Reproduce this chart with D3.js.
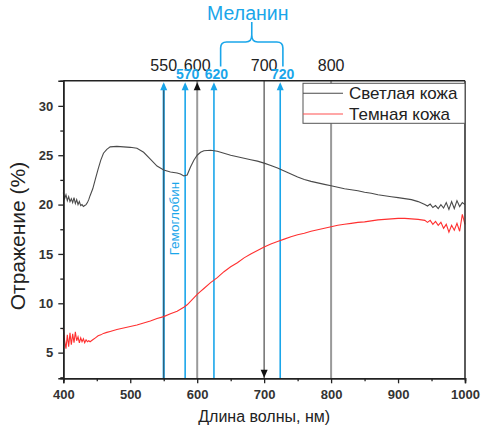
<!DOCTYPE html>
<html><head><meta charset="utf-8">
<script src="https://cdn.jsdelivr.net/npm/d3@7"></script>
<style>
html,body{margin:0;padding:0;background:#fff;}
svg{display:block;font-family:"Liberation Sans",Arial,sans-serif;}
</style></head>
<body><svg id="c" width="482" height="430"></svg>
<script>
// ---- data ----
const wavelengths = [400,402,404,406,408,410,412,414,416,418,420,422,424,426,428,430,432,434,436,438,440,444,448,452,456,460,465,470,480,490,500,510,520,530,540,550,560,570,575,580,585,590,595,600,605,610,620,630,640,650,660,670,680,690,700,710,720,730,740,750,760,770,780,790,800,810,820,830,840,850,860,870,880,890,900,910,920,930,940,944,948,952,956,960,964,968,972,976,980,984,988,992,996,1000];
const lightSkin = [21.2,20.6,21.0,20.4,20.8,20.3,20.6,20.2,20.7,20.1,20.5,20.0,20.3,19.9,20.0,19.8,19.9,20.0,20.2,20.5,20.9,21.6,22.6,23.6,24.5,25.2,25.6,25.85,25.9,25.85,25.8,25.7,25.3,24.6,23.9,23.5,23.3,23.2,23.1,22.9,23.0,23.8,24.5,25.0,25.3,25.45,25.5,25.4,25.2,25.0,24.85,24.7,24.55,24.4,24.2,23.95,23.7,23.4,23.1,22.8,22.55,22.35,22.2,22.05,21.9,21.75,21.6,21.5,21.4,21.25,21.15,21.0,20.9,20.8,20.7,20.6,20.5,20.3,20.0,19.85,20.05,19.7,19.9,19.6,20.0,19.65,20.2,19.5,20.3,19.6,20.4,19.8,20.2,20.0];
const darkSkin = [7.4,6.2,5.4,6.8,5.6,7.0,5.8,6.9,6.0,7.1,6.2,6.6,6.0,6.5,6.1,6.4,6.0,6.3,6.1,6.2,6.1,6.3,6.5,6.7,6.8,6.95,7.05,7.15,7.35,7.5,7.65,7.8,8.0,8.2,8.45,8.65,8.95,9.2,9.4,9.6,9.85,10.2,10.55,10.9,11.2,11.5,12.1,12.6,13.2,13.7,14.1,14.6,15.0,15.35,15.7,16.0,16.25,16.5,16.75,16.95,17.1,17.3,17.45,17.6,17.75,17.9,18.0,18.1,18.2,18.25,18.35,18.45,18.5,18.55,18.6,18.6,18.55,18.5,18.4,18.2,18.4,18.0,18.3,17.9,18.2,17.6,18.0,17.2,17.9,17.4,18.1,17.3,19.0,18.0];
const seriesNames = ["Светлая кожа","Темная кожа"];
const xTicks = [400,500,600,700,800,900,1000];
const yTicks = [5,10,15,20,25,30];
const topMarkWl = [550,600,700,800];
const topMarkLabels = ["550","600","700","800"];
const blueLineWl = [550,582,625,724];
const blueLabelWl = [582,625,724];
const blueLabels = ["570","620","720"];
const grayLineWl = [600,700,800];
const melaninRange = [635,728];
const hemoglobinWl = 565;

// ---- layout ----
const svg = d3.select("#c");
const L = 63.3, R = 465, T = 80.7, B = 378.3;
const x = d3.scaleLinear().domain([400,1000]).range([L,R]);
const y = d3.scaleLinear().domain([2.4,32.55]).range([B,T]);
const blue = "#1aa6ea";
const txt = "#222";

// vertical lines
svg.append("g").selectAll("line").data(grayLineWl).join("line")
  .attr("x1",d=>x(d)).attr("x2",d=>x(d)).attr("y1",T).attr("y2",B)
  .attr("stroke",(d,i)=>i===1?"#6f6f6f":"#9a9a9a").attr("stroke-width",(d,i)=>i===1?1.5:2);
svg.append("g").selectAll("line").data(blueLineWl).join("line")
  .attr("x1",d=>x(d)).attr("x2",d=>x(d)).attr("y1",T+4).attr("y2",B)
  .attr("stroke",blue).attr("stroke-width",(d,i)=>i===0?2.2:1.6);
svg.append("line").attr("x1",x(blueLineWl[0])).attr("x2",x(blueLineWl[0]))
  .attr("y1",T+9).attr("y2",B).attr("stroke","#3a4650").attr("stroke-width",0.9);

// arrowheads
function up(cx,tip,col){svg.append("path").attr("d",`M${cx},${tip}L${cx-3.5},${tip+8}L${cx+3.5},${tip+8}Z`).attr("fill",col);}
function down(cx,tip,col){svg.append("path").attr("d",`M${cx},${tip}L${cx-3.5},${tip-8}L${cx+3.5},${tip-8}Z`).attr("fill",col);}
blueLineWl.forEach(d=>up(x(d),T+1.5,blue));
up(x(600),T+1.5,"#111");
down(x(700),B-0.5,"#111");

// curves
const line = d3.line().x((d,i)=>x(wavelengths[i])).y(d=>y(d));
svg.append("path").datum(lightSkin).attr("d",line).attr("fill","none").attr("stroke","#4a4a4a").attr("stroke-width",1.1);
svg.append("path").datum(darkSkin).attr("d",line).attr("fill","none").attr("stroke","#ff3030").attr("stroke-width",1.1);

// axes
const xAxis = svg.append("g").attr("transform",`translate(0,${B})`)
  .call(d3.axisBottom(x).tickValues(xTicks).tickSize(5).tickPadding(6).tickFormat(d3.format("d")));
const xMinor = svg.append("g").attr("transform",`translate(0,${B})`)
  .call(d3.axisBottom(x).tickValues(d3.range(450,1000,100)).tickSize(3).tickFormat(""));
const yAxis = svg.append("g").attr("transform",`translate(${L},0)`)
  .call(d3.axisLeft(y).tickValues(yTicks).tickSize(5).tickPadding(5));
const yMinor = svg.append("g").attr("transform",`translate(${L},0)`)
  .call(d3.axisLeft(y).tickValues([2.5,7.5,12.5,17.5,22.5,27.5]).tickSize(3).tickFormat(""));
[xAxis,xMinor,yAxis,yMinor].forEach(g=>{
  g.select(".domain").attr("stroke","#222").attr("stroke-width",1.5);
  g.selectAll(".tick line").attr("stroke","#222").attr("stroke-width",1.3);
  g.selectAll("text").attr("font-size",13).attr("fill","#333").attr("font-weight",600)
    .attr("font-family","'Liberation Sans',Arial,sans-serif");
});
// top & right border
svg.append("line").attr("x1",L).attr("x2",R).attr("y1",T).attr("y2",T).attr("stroke","#222").attr("stroke-width",1.5);
svg.append("line").attr("x1",R).attr("x2",R).attr("y1",T).attr("y2",B).attr("stroke","#333").attr("stroke-width",1.6);

// top labels
svg.append("g").selectAll("text").data(topMarkWl).join("text")
  .attr("x",d=>x(d)).attr("y",70.5).attr("text-anchor","middle")
  .attr("font-size",16).attr("fill",txt).text((d,i)=>topMarkLabels[i]);
svg.append("g").selectAll("text").data(blueLabelWl).join("text")
  .attr("x",d=>x(d)+2.5).attr("y",78.5).attr("text-anchor","middle")
  .attr("font-size",14).attr("font-weight",700).attr("fill",blue).text((d,i)=>blueLabels[i]);

// melanin brace
const bx1 = x(melaninRange[0]), bx2 = x(melaninRange[1]), bm = (bx1+bx2)/2;
svg.append("path").attr("fill","none").attr("stroke",blue).attr("stroke-width",1.6)
  .attr("d",`M${bx1},66.5 L${bx1},48 Q${bx1},42 ${bx1+6},42 L${bm-6},42 Q${bm},42 ${bm},35 L${bm},22
             M${bm},35 Q${bm},42 ${bm+6},42 L${bx2-6},42 Q${bx2},42 ${bx2},48 L${bx2},66.5`);
svg.append("text").attr("x",bm-4).attr("y",20).attr("text-anchor","middle")
  .attr("font-size",19.5).attr("fill",blue).text("Меланин");

// hemoglobin label
svg.append("text").attr("transform",`translate(${x(hemoglobinWl)+1},218.5) rotate(-90)`)
  .attr("text-anchor","middle").attr("dominant-baseline","central")
  .attr("font-size",13.5).attr("fill",blue).text("Гемоглобин");

// axis titles
svg.append("text").attr("x",(L+R)/2).attr("y",421.5).attr("text-anchor","middle")
  .attr("font-size",16).attr("fill",txt).text("Длина волны, нм)");
svg.append("text").attr("transform","translate(17,236) rotate(-90)")
  .attr("text-anchor","middle").attr("dominant-baseline","central")
  .attr("font-size",21).attr("fill",txt).text("Отражение (%)");

// legend
const lg = svg.append("g");
lg.append("rect").attr("x",303).attr("y",83.3).attr("width",R-303).attr("height",40)
  .attr("fill","#fff").attr("stroke","#555").attr("stroke-width",1);
const lcol = ["#4a4a4a","#ff5050"];
seriesNames.forEach((n,i)=>{
  const yy = 93.3 + i*20.7;
  lg.append("line").attr("x1",303).attr("x2",343).attr("y1",yy).attr("y2",yy).attr("stroke",lcol[i]).attr("stroke-width",1.1);
  lg.append("text").attr("x",349).attr("y",yy+5.5).attr("font-size",17).attr("fill",txt).text(n);
});
</script></body></html>
